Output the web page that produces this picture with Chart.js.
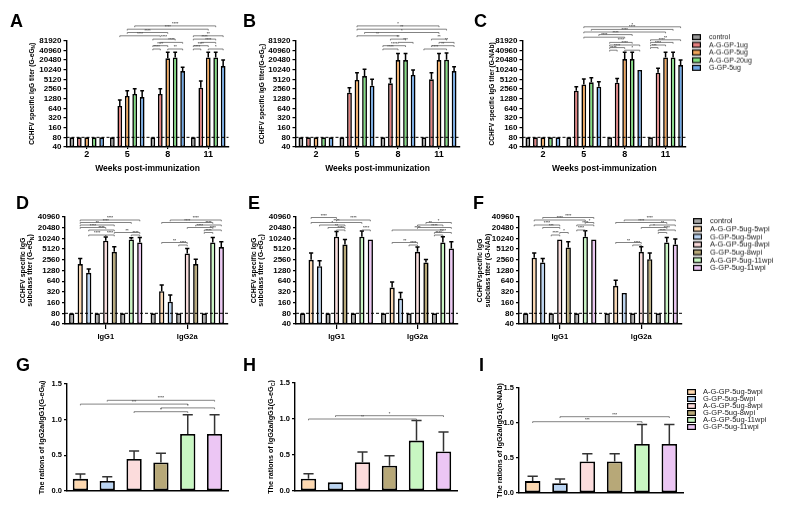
<!DOCTYPE html>
<html><head><meta charset="utf-8">
<script src="https://cdn.jsdelivr.net/npm/chart.js@4/dist/chart.umd.min.js"></script>
<style>
html,body{margin:0;padding:0;background:#fff;}
body{width:790px;height:517px;position:relative;overflow:hidden;font-family:"Liberation Sans",Arial,sans-serif;}
canvas{position:absolute;}
.lt{position:absolute;font-weight:bold;font-size:18px;line-height:18px;color:#000;}
</style></head><body>
<script>
// ---------------- DATA ----------------
const weeks = ['2','5','8','11'];
const topGroups = ['control','A-G-GP-1ug','A-G-GP-5ug','A-G-GP-20ug','G-GP-5ug'];
const topColors = ['#9a9a9a','#e57f7f','#f2a75c','#80e080','#6ea8e8'];
const titerTicksTop = [40,80,160,320,640,1280,2560,5120,10240,20480,40960,81920];
const titerTicksSub = [40,80,160,320,640,1280,2560,5120,10240,20480,40960];
const ratioTicks = [0,0.5,1.0,1.5];
const cutoffTiter = 80;

// Panel A (G-eGN)
const A_control = [80,80,80,80];
const A_ag1  = [80,760,1790,2820];   const A_ag1_sd  = [0,400,830,1730];
const A_ag5  = [80,1550,23100,24700]; const A_ag5_sd  = [0,720,12400,10800];
const A_ag20 = [80,1790,24700,24700]; const A_ag20_sd = [0,830,10800,10800];
const A_g5   = [80,1440,9300,13300];  const A_g5_sd   = [0,830,2800,7200];
// Panel B (G-eGC)
const B_control = [80,80,80,80];
const B_ag1  = [80,1970,3850,5120];   const B_ag1_sd  = [0,850,1640,3130];
const B_ag5  = [80,4880,20480,20480]; const B_ag5_sd  = [0,3370,12500,12500];
const B_ag20 = [80,6480,20480,21000]; const B_ag20_sd = [0,4000,12500,12800];
const B_g5   = [80,3250,7000,9300];   const B_g5_sd   = [0,1870,3000,3400];
// Panel C (G-NAb)
const C_control = [80,80,80,80];
const C_ag1  = [80,2270,4040,8250];   const C_ag1_sd  = [0,750,1450,3050];
const C_ag5  = [80,3570,22000,24700]; const C_ag5_sd  = [0,1670,13500,10800];
const C_ag20 = [80,4130,22000,24700]; const C_ag20_sd = [0,1640,13500,10800];
const C_g5   = [80,3020,10000,14300]; const C_g5_sd   = [0,1310,0,6200];

const subclasses = ['IgG1','IgG2a'];
const subGroups = ['control','A-G-GP-5ug-5wpi','G-GP-5ug-5wpi','A-G-GP-5ug-8wpi','G-GP-5ug-8wpi','A-G-GP-5ug-11wpi','G-GP-5ug-11wpi'];
const subColors = ['#a8a8a8','#fdd8b0','#bad4f2','#fcdcdc','#b7a878','#c8f7c2','#ecc6f4'];
// Panel D (G-eGN)
const D_control = [80,80];
const D_a5  = [1940,335];  const D_a5_sd  = [860,165];
const D_g5  = [1100,170];  const D_g5_sd  = [320,90];
const D_a8  = [8800,3870]; const D_a8_sd  = [2500,1430];
const D_g8  = [4300,1940]; const D_g8_sd  = [1700,710];
const D_a11 = [9600,7900]; const D_a11_sd = [1000,2900];
const D_g11 = [7900,5850]; const D_g11_sd = [2900,2450];
// Panel E (G-eGC)
const E_control = [80,80];
const E_a5  = [2560,424];   const E_a5_sd  = [1400,186];
const E_g5  = [1690,208];   const E_g5_sd  = [710,102];
const E_a8  = [11400,4300]; const E_a8_sd  = [4700,1600];
const E_g8  = [6900,2150];  const E_g8_sd  = [2700,450];
const E_a11 = [11400,7900]; const E_a11_sd = [5100,3500];
const E_g11 = [9600,5350];  const E_g11_sd = [0,2950];
// Panel F (G-NAb)
const F_control = [80,80];
const F_a5  = [2920,474];   const F_a5_sd  = [1040,206];
const F_g5  = [2150,300];   const F_g5_sd  = [650,0];
const F_a8  = [9600,4300];  const F_a8_sd  = [0,1700];
const F_g8  = [5700,2670];  const F_g8_sd  = [2600,1330];
const F_a11 = [11400,7900]; const F_a11_sd = [5400,2900];
const F_g11 = [9600,6900];  const F_g11_sd = [0,3000];

// Panels G-I : IgG2a/IgG1 ratios
const ratioGroups = subGroups.slice(1);
const ratioColors = subColors.slice(1);
const G_ratio = [0.17,0.14,0.45,0.40,0.80,0.80]; const G_ratio_sd = [0.07,0.06,0.11,0.13,0.27,0.27];
const H_ratio = [0.17,0.12,0.40,0.35,0.70,0.55]; const H_ratio_sd = [0.07,0,0.14,0.14,0.28,0.27];
const I_ratio = [0.17,0.14,0.45,0.45,0.70,0.70]; const I_ratio_sd = [0.07,0.06,0.11,0.11,0.28,0.28];

// significance brackets: [category1, dataset1, category2, dataset2, stack level, label]
const A_sig = [[1,3,3,3,7,'****'],[1,2,3,2,6,'****'],[1,2,2,2,5,'****'],[1,1,2,1,4,'****'],
  [2,0,2,3,3,'****'],[2,1,2,4,2,'****'],[2,0,2,2,1,'****'],[2,0,2,1,0,'****'],[2,2,2,4,0,'**'],
  [3,0,3,4,4,'**'],[3,0,3,3,3,'****'],[3,1,3,3,2,'****'],[3,0,3,2,1,'****'],[3,0,3,1,0,'****'],[3,2,3,4,0,'*']];
const B_sig = [[1,2,3,2,7,'*'],[1,2,3,3,6,'**'],[1,3,3,2,5,'*'],[1,2,2,2,4,'**'],
  [2,1,2,3,3,'**'],[2,2,2,4,2,'***'],[2,0,2,3,1,'****'],[2,0,2,2,0,'****'],
  [3,1,3,3,3,'**'],[3,2,3,4,2,'**'],[3,1,3,4,1,'**'],[3,0,3,3,0,'****']];
const C_sig = [[1,2,3,4,9,'*'],[1,3,3,3,8,'****'],[1,2,3,2,7,'****'],[1,4,2,3,6,'****'],[1,2,2,2,5,'****'],
  [2,0,2,3,3,'****'],[2,0,2,4,2,'****'],[2,0,2,2,1,'****'],[2,0,2,1,0,'****'],[2,2,2,4,0,'*'],
  [3,0,3,4,4,'**'],[3,0,3,3,3,'****'],[3,0,3,2,2,'****'],[3,0,3,1,1,'***']];
const D_sig = [[0,1,0,8,10,'****'],[0,1,0,7,9,'****'],[0,1,0,5,8,'**'],[0,1,0,4,7,'****'],[0,2,0,5,6,'****'],
  [0,5,0,8,5,'**'],[0,2,0,4,4,'****'],[0,4,0,5,4,'****'],[0,7,0,8,4,'****'],
  [1,2,1,8,10,'****'],[1,1,1,7,9,'****'],[1,5,1,8,8,'****'],[1,4,1,7,7,'****'],[1,6,1,8,6,'****'],
  [1,6,1,7,5,'****'],[1,1,1,4,1,'**'],[1,3,1,4,0,'****']];
const E_sig = [[0,1,0,4,11,'****'],[0,4,0,8,10,'****'],[0,1,0,7,9,'****'],[0,2,0,5,8,'*'],[0,3,0,5,7,'**'],
  [0,4,0,5,6,'****'],[0,7,0,8,6,'****'],
  [1,5,1,8,9,'*'],[1,4,1,7,8,'**'],[1,4,1,8,7,'****'],[1,1,1,7,6,'****'],[1,6,1,8,5,'****'],
  [1,6,1,7,4,'****'],[1,1,1,4,1,'**'],[1,3,1,4,0,'****']];
const F_sig = [[0,2,0,8,11,'****'],[0,1,0,7,10,'****'],[0,7,0,8,9,'*'],[0,1,0,4,8,'****'],[0,6,0,8,8,'****'],
  [0,2,0,4,7,'***'],[0,6,0,7,6,'****'],[0,4,0,5,5,'*'],[0,3,0,4,4,'****'],
  [1,2,1,8,10,'****'],[1,1,1,7,9,'****'],[1,5,1,8,8,'**'],[1,4,1,7,7,'*'],[1,6,1,8,6,'****'],
  [1,6,1,7,5,'****'],[1,1,1,4,1,'**'],[1,3,1,4,0,'****']];
const G_sig = [[1,0,5,0,3,'****'],[0,0,4,0,2,'***'],[3,0,5,0,1,'*'],[2,0,4,0,0,'*']];
const H_sig = [[0,0,4,0,0,'**'],[1,0,5,0,1,'*']];
const I_sig = [[0,0,4,0,0,'***'],[1,0,5,0,1,'***']];

// ---------------- RENDERING ----------------
const FONT = '"Liberation Sans", Arial, sans-serif';
Chart.defaults.font.family = FONT;
Chart.defaults.color = '#000';

const extras = {
  id:'extras',
  afterDatasetsDraw(chart, args, o){
    const ctx = chart.ctx, y = chart.scales.y, ca = chart.chartArea;
    ctx.save();
    if (o.cutoff != null){
      const py = y.getPixelForValue(o.cutoff);
      ctx.setLineDash([3,2]); ctx.strokeStyle='#000'; ctx.lineWidth=1;
      ctx.beginPath(); ctx.moveTo(ca.left,py); ctx.lineTo(ca.right,py); ctx.stroke();
      ctx.setLineDash([]);
    }
    chart.data.datasets.forEach((ds,i)=>{
      if(!ds.sd) return;
      chart.getDatasetMeta(i).data.forEach((bar,j)=>{
        const sd = ds.sd[j]; if(!sd) return;
        const top = y.getPixelForValue(ds.data[j]+sd);
        const w = bar.width*(o.capRatio||0.4);
        ctx.strokeStyle = o.errColor||'#000'; ctx.lineWidth = o.errWidth||1.5;
        ctx.beginPath(); ctx.moveTo(bar.x,bar.y); ctx.lineTo(bar.x,top);
        ctx.moveTo(bar.x-w,top); ctx.lineTo(bar.x+w,top); ctx.stroke();
      });
    });
    ctx.restore();
  },
  afterDraw(chart, args, o){
    const ctx = chart.ctx, ca = chart.chartArea;
    ctx.save();
    (o.sig||[]).forEach(([c1,d1,c2,d2,lv,txt])=>{
      const x1 = chart.getDatasetMeta(d1).data[c1].x, x2 = chart.getDatasetMeta(d2).data[c2].x;
      const py = ca.top + o.sigBase - lv*o.sigStep;
      ctx.strokeStyle='#5a5a5a'; ctx.lineWidth=0.75;
      ctx.beginPath(); ctx.moveTo(x1,py+1.3); ctx.lineTo(x1,py); ctx.lineTo(x2,py); ctx.lineTo(x2,py+1.3); ctx.stroke();
      ctx.fillStyle='#555'; ctx.font='bold 4px '+FONT; ctx.textAlign='center'; ctx.textBaseline='bottom';
      ctx.fillText(txt,(x1+x2)/2,py-0.1);
    });
    if (o.ytitle){
      const cy = (ca.top+ca.bottom)/2, size=o.ytitle.size;
      o.ytitle.lines.forEach((txt,k)=>{
        const parts = txt.split(/_(\w)/);
        ctx.save(); ctx.translate(o.ytitle.xs[k], cy); ctx.rotate(-Math.PI/2);
        let total=0;
        parts.forEach((p,i)=>{ctx.font='bold '+(i%2?size*0.72:size)+'px '+FONT; total+=ctx.measureText(p).width;});
        let px=-total/2; ctx.textAlign='left'; ctx.textBaseline='middle'; ctx.fillStyle='#000';
        parts.forEach((p,i)=>{ctx.font='bold '+(i%2?size*0.72:size)+'px '+FONT; ctx.fillText(p,px,i%2?size*0.3:0); px+=ctx.measureText(p).width;});
        ctx.restore();
      });
    }
    ctx.restore();
  }
};

function place(box){
  const c=document.createElement('canvas');
  c.width=box.w; c.height=box.h;
  c.style.left=box.x+'px'; c.style.top=box.y+'px'; c.style.width=box.w+'px'; c.style.height=box.h+'px';
  document.body.appendChild(c); return c;
}
function barDs(label,data,sd,color,cp,bp,bw){
  return {label,data,sd,backgroundColor:color,borderColor:'#000',borderWidth:bw,borderSkipped:false,
    categoryPercentage:cp,barPercentage:bp};
}
function makeChart(box, plot, labels, datasets, o){
  const c = place(box);
  const yW = plot.l-box.x, xH = box.y+box.h-plot.b;
  const axisGrid = {display:true,drawOnChartArea:false,drawTicks:true,tickLength:3,color:'#000',lineWidth:1.2};
  const yScale = o.log ? {
      type:'logarithmic', min:o.ticks[0], max:o.ticks[o.ticks.length-1],
      afterBuildTicks:s=>{s.ticks=o.ticks.map(v=>({value:v}));},
      ticks:{callback:v=>String(v),font:{size:8,weight:'bold'},color:'#000',padding:2,autoSkip:false},
    } : {
      type:'linear', min:0, max:1.5,
      afterBuildTicks:s=>{s.ticks=o.ticks.map(v=>({value:v}));},
      ticks:{callback:v=>Number(v).toFixed(1),font:{size:7.5,weight:'bold'},color:'#000',padding:2,autoSkip:false},
    };
  Object.assign(yScale,{grid:axisGrid,border:{display:true,color:'#000',width:1.4},afterFit:s=>{s.width=yW;}});
  const xScale = {
    grid: o.xticks ? Object.assign({},axisGrid,{offset:false,tickLength:o.xtl||2}) : {display:false},
    border:{display:true,color:'#000',width:1.4},
    ticks:{display:!!o.xticks,font:{size:o.xfont||9,weight:'bold'},color:'#000',padding:o.xpad||0,maxRotation:0,autoSkip:false},
    title: o.xtitle ? {display:true,text:o.xtitle,font:{size:8.5,weight:'bold'},color:'#000',padding:{top:0,bottom:0}} : {display:false},
    afterFit:s=>{s.height=xH;}
  };
  new Chart(c,{
    type:'bar',
    data:{labels,datasets},
    options:{
      responsive:false, animation:false, devicePixelRatio:1,
      layout:{padding:{left:0,top:plot.t-box.y,right:box.x+box.w-plot.r,bottom:0}},
      plugins:{legend:{display:false},tooltip:{enabled:false},
        extras:{cutoff:o.cutoff,sig:o.sig,sigBase:o.sigBase,sigStep:o.sigStep,capRatio:o.capRatio,errColor:o.errColor,errWidth:o.errWidth,
          ytitle:{lines:o.ytitle,xs:o.ytx.map(v=>v-box.x),size:o.ytsize}}},
      scales:{x:xScale,y:yScale}
    },
    plugins:[extras]
  });
}
function topSets(ctrl,a1,a1s,a5,a5s,a20,a20s,g5,g5s){
  const cp=0.92,bp=0.64,bw=1.6;
  return [barDs(topGroups[0],ctrl,null,topColors[0],cp,bp,bw),barDs(topGroups[1],a1,a1s,topColors[1],cp,bp,bw),
    barDs(topGroups[2],a5,a5s,topColors[2],cp,bp,bw),barDs(topGroups[3],a20,a20s,topColors[3],cp,bp,bw),
    barDs(topGroups[4],g5,g5s,topColors[4],cp,bp,bw)];
}
function subSets(ctrl,a5,a5s,g5,g5s,a8,a8s,g8,g8s,a11,a11s,g11,g11s){
  const cp=0.94,bp=0.62,bw=1.6;
  return [barDs(subGroups[0],ctrl,null,subColors[0],cp,bp,bw),barDs(subGroups[1],a5,a5s,subColors[1],cp,bp,bw),
    barDs(subGroups[2],g5,g5s,subColors[2],cp,bp,bw),barDs(subGroups[0],ctrl,null,subColors[0],cp,bp,bw),
    barDs(subGroups[3],a8,a8s,subColors[3],cp,bp,bw),barDs(subGroups[4],g8,g8s,subColors[4],cp,bp,bw),
    barDs(subGroups[0],ctrl,null,subColors[0],cp,bp,bw),barDs(subGroups[5],a11,a11s,subColors[5],cp,bp,bw),
    barDs(subGroups[6],g11,g11s,subColors[6],cp,bp,bw)];
}
function ratioSet(r,sd){ return [barDs('ratio',r,sd,ratioColors,1,0.57,1.8)]; }

// Row 1
const topOpts = {log:true,ticks:titerTicksTop,cutoff:cutoffTiter,xticks:true,xtitle:'Weeks post-immunization',sigBase:8.3,sigStep:3.3,ytsize:6.6};
makeChart({x:0,y:20,w:240,h:154},{l:66.5,t:40.7,r:228.5,b:147},weeks,
  topSets(A_control,A_ag1,A_ag1_sd,A_ag5,A_ag5_sd,A_ag20,A_ag20_sd,A_g5,A_g5_sd),
  Object.assign({},topOpts,{sig:A_sig,ytitle:['CCHFV specific IgG titer (G-eG_N)'],ytx:[32]}));
makeChart({x:245,y:20,w:225,h:154},{l:295.5,t:40.7,r:459.5,b:147},weeks,
  topSets(B_control,B_ag1,B_ag1_sd,B_ag5,B_ag5_sd,B_ag20,B_ag20_sd,B_g5,B_g5_sd),
  Object.assign({},topOpts,{sig:B_sig,ytitle:['CCHFV specific IgG titer(G-eG_C)'],ytx:[262.5]}));
makeChart({x:470,y:20,w:220,h:154},{l:522.5,t:40.7,r:686,b:147},weeks,
  topSets(C_control,C_ag1,C_ag1_sd,C_ag5,C_ag5_sd,C_ag20,C_ag20_sd,C_g5,C_g5_sd),
  Object.assign({},topOpts,{sig:C_sig,sigBase:9.5,sigStep:2.6,ytitle:['CCHFV specific IgG titer (G-NAb)'],ytx:[491.7]}));

// Row 2
const subOpts = {log:true,ticks:titerTicksSub,cutoff:cutoffTiter,xticks:true,xfont:7.5,xtl:5,xpad:3,sigBase:28,sigStep:2.5,ytsize:7};
makeChart({x:0,y:195,w:235,h:150},{l:65,t:217,r:228,b:324},subclasses,
  subSets(D_control,D_a5,D_a5_sd,D_g5,D_g5_sd,D_a8,D_a8_sd,D_g8,D_g8_sd,D_a11,D_a11_sd,D_g11,D_g11_sd),
  Object.assign({},subOpts,{sig:D_sig,ytitle:['CCHFV specific IgG','subclass titer (G-eG_N)'],ytx:[23,30.5]}));
makeChart({x:245,y:195,w:220,h:150},{l:296,t:217,r:458,b:324},subclasses,
  subSets(E_control,E_a5,E_a5_sd,E_g5,E_g5_sd,E_a8,E_a8_sd,E_g8,E_g8_sd,E_a11,E_a11_sd,E_g11,E_g11_sd),
  Object.assign({},subOpts,{sig:E_sig,ytitle:['CCHFV specific IgG','subclass titer (G-eG_C)'],ytx:[254,261.5]}));
makeChart({x:470,y:195,w:218,h:150},{l:519,t:217,r:682,b:324},subclasses,
  subSets(F_control,F_a5,F_a5_sd,F_g5,F_g5_sd,F_a8,F_a8_sd,F_g8,F_g8_sd,F_a11,F_a11_sd,F_g11,F_g11_sd),
  Object.assign({},subOpts,{sig:F_sig,ytitle:['CCHFVspecific IgG','subclass titer (G-NAb)'],ytx:[480.5,488.5]}));

// Row 3
const ratioOpts = {log:false,ticks:ratioTicks,cutoff:null,xticks:false,capRatio:0.33,errColor:'#333',errWidth:1.5,ytsize:7.2};
makeChart({x:0,y:370,w:235,h:130},{l:67,t:384,r:228,b:491},ratioGroups,ratioSet(G_ratio,G_ratio_sd),
  Object.assign({},ratioOpts,{sig:G_sig,sigBase:27.7,sigStep:3.8,ytitle:['The rations of IgG2a/IgG1(G-eG_N)'],ytx:[41.7]}));
makeChart({x:245,y:370,w:220,h:130},{l:295,t:383,r:457,b:491},ratioGroups,ratioSet(H_ratio,H_ratio_sd),
  Object.assign({},ratioOpts,{sig:H_sig,sigBase:36,sigStep:3.3,ytitle:['The rations of IgG2a/IgG1(G-eG_C)'],ytx:[271]}));
makeChart({x:470,y:370,w:215,h:130},{l:519,t:388,r:683,b:493},ratioGroups,ratioSet(I_ratio,I_ratio_sd),
  Object.assign({},ratioOpts,{sig:I_sig,sigBase:33.7,sigStep:5,ytitle:['The rations of IgG2a/IgG1(G-NAb)'],ytx:[500]}));

// Panel letters
[['A',10,11.7],['B',243,11.7],['C',474,11.7],['D',16,194.4],['E',248,194.4],['F',473,194.4],['G',16,355.7],['H',243,355.7],['I',479,355.7]]
  .forEach(([t,x,y])=>{const d=document.createElement('div');d.className='lt';d.textContent=t;d.style.left=x+'px';d.style.top=y+'px';document.body.appendChild(d);});

// Legends (drawn on canvas)
function legend(names,colors,x,y0,step,tx,fs){
  const box={x:x-2,y:y0-6,w:100,h:names.length*step+8};
  const c=place(box); const ctx=c.getContext('2d');
  names.forEach((n,i)=>{
    const yc=6+i*step;
    ctx.fillStyle='#000'; ctx.fillRect(2,yc-3,9,6);
    ctx.fillStyle=colors[i]; ctx.fillRect(3.2,yc-1.8,6.6,3.6);
    ctx.fillStyle='#222'; ctx.font=fs+'px '+FONT; ctx.textAlign='left'; ctx.textBaseline='middle';
    ctx.fillText(n,2+tx,yc+0.3);
  });
}
legend(topGroups,topColors,692,37,7.5,17,7);
legend(subGroups,subColors,693,221,7.67,17,7.5);
legend(ratioGroups,ratioColors,687,392,7,16,7.5);
</script>
</body></html>
